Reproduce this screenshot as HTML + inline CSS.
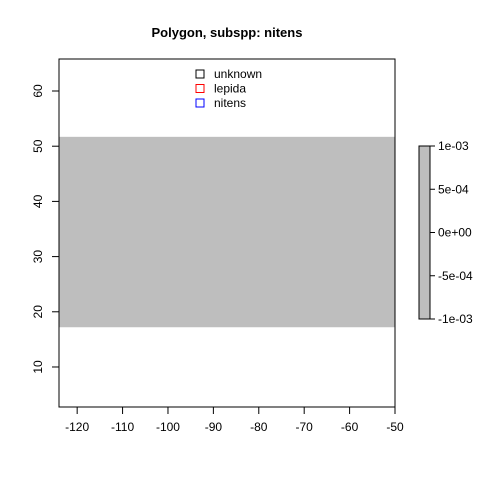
<!DOCTYPE html>
<html><head><meta charset="utf-8"><style>body{margin:0;background:#fff}svg text{font-family:"Liberation Sans",sans-serif;font-size:12px}</style></head>
<body>
<svg id="c" width="480" height="480" xmlns="http://www.w3.org/2000/svg">
<text x="227" y="37" text-anchor="middle" style="font-weight:bold;font-size:13px">Polygon, subspp: nitens</text>
<g id="g"></g>
</svg>
<script>
const xTicks=[-120,-110,-100,-90,-80,-70,-60,-50];
const yTicks=[10,20,30,40,50,60];
const polyY=[17.2,51.7];
const legendLabels=["unknown","lepida","nitens"];
const legendColors=["#000","#f00","#00f"];
const cbTicks=["1e-03","5e-04","0e+00","-5e-04","-1e-03"];
const cbVals=[1e-3,5e-4,0,-5e-4,-1e-3];
const X0=59,X1=395,Y0=407,Y1=59,xmin=-124,xmax=-50,ymin=2.75,ymax=65.8;
const sx=v=>X0+(v-xmin)/(xmax-xmin)*(X1-X0);
const sy=v=>Y0-(v-ymin)/(ymax-ymin)*(Y0-Y1);
const g=document.getElementById('g');const NS="http://www.w3.org/2000/svg";
function mk(t,a,txt){const e=document.createElementNS(NS,t);for(const k in a)e.setAttribute(k,a[k]);if(txt!==undefined)e.textContent=txt;g.appendChild(e);return e;}
let e=mk('rect',{x:X0,y:sy(polyY[1]),width:X1-X0,height:sy(polyY[0])-sy(polyY[1]),fill:'#bebebe'});

e=mk('rect',{x:X0,y:Y1,width:X1-X0,height:Y0-Y1,fill:'none',stroke:'#000'});

xTicks.forEach(v=>{const x=sx(v);
e=mk('line',{x1:x,x2:x,y1:Y0,y2:Y0+7,stroke:'#000'});
e=mk('text',{x:x,y:Y0+24,'text-anchor':'middle'},v);});
yTicks.forEach(v=>{const y=sy(v);
e=mk('line',{x1:X0-7,x2:X0,y1:y,y2:y,stroke:'#000'});
e=mk('text',{x:0,y:0,'text-anchor':'middle',transform:`translate(${X0-17},${y}) rotate(-90)`},v);});
legendLabels.forEach((l,i)=>{const y=74+i*14.5;
e=mk('rect',{x:196,y:y-4,width:8,height:8,fill:'none',stroke:legendColors[i]});
e=mk('text',{x:214,y:y+4},l);});
const CB0=319,CB1=146,cs=v=>CB0-(v+1e-3)/2e-3*(CB0-CB1);
e=mk('rect',{x:419,y:CB1,width:11,height:CB0-CB1,fill:'#bebebe',stroke:'#000'});
cbTicks.forEach((t,i)=>{const y=cs(cbVals[i]);
e=mk('line',{x1:430,x2:435,y1:y,y2:y,stroke:'#000'});
e=mk('text',{x:438,y:y+4},t);});
</script>
</body></html>
